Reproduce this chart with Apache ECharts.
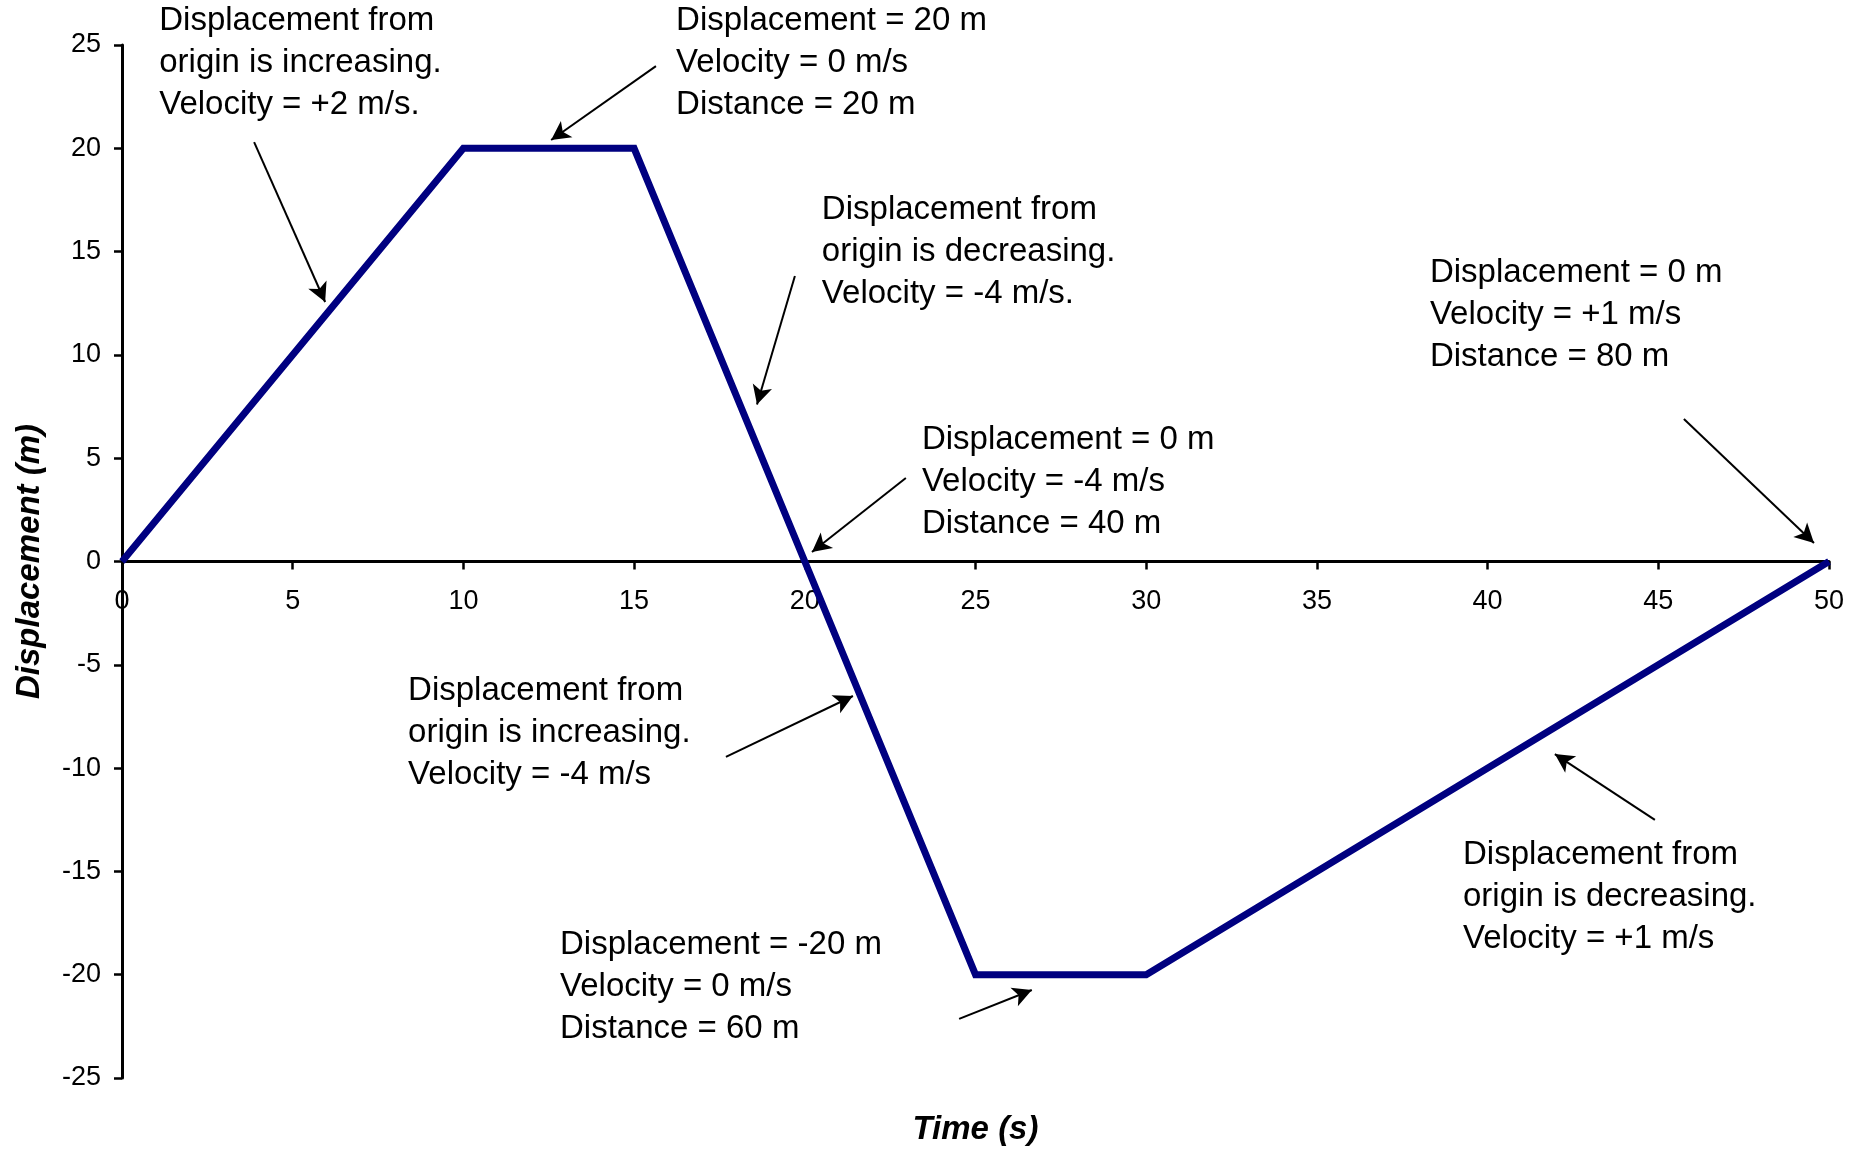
<!DOCTYPE html>
<html>
<head>
<meta charset="utf-8">
<script src="https://cdn.jsdelivr.net/npm/echarts@6/dist/echarts.min.js"></script>
<style>
  html, body { margin: 0; padding: 0; background: #fff; }
  #chart { width: 1866px; height: 1149px; }
</style>
</head>
<body>
<div id="chart"></div>
<script>
// ---- data ----
const timeS = [0, 10, 15, 20, 25, 30, 50];
const displacementM = [0, 20, 20, 0, -20, -20, 0];

const xTicks = { min: 0, max: 50, interval: 5 };
const yTicks = { min: -25, max: 25, interval: 5 };

// annotation texts, anchored (left edge, first line centre) in data units
const noteTexts = [
  'Displacement from\norigin is increasing.\nVelocity = +2 m/s.',
  'Displacement = 20 m\nVelocity = 0 m/s\nDistance = 20 m',
  'Displacement from\norigin is decreasing.\nVelocity = -4 m/s.',
  'Displacement = 0 m\nVelocity = -4 m/s\nDistance = 40 m',
  'Displacement from\norigin is decreasing.\nVelocity = +1 m/s',
  'Displacement = 0 m\nVelocity = +1 m/s\nDistance = 80 m',
  'Displacement from\norigin is increasing.\nVelocity = -4 m/s',
  'Displacement = -20 m\nVelocity = 0 m/s\nDistance = 60 m'
];
const noteX = [1.09, 16.23, 20.50, 23.43, 39.28, 38.31, 8.38, 12.83];
const noteY = [26.16, 26.15, 17.04, 5.88, -14.18, 13.98, -6.27, -18.56];

// arrows: start -> tip, in data units
const arrowFromX = [3.87, 15.64, 19.71, 22.96, 44.90, 45.75, 17.69, 24.52];
const arrowFromY = [20.30, 23.98, 13.82, 4.04, -12.51, 6.90, -9.46, -22.14];
const arrowToX   = [5.95, 12.57, 18.60, 20.21, 41.97, 49.56, 21.41, 26.65];
const arrowToY   = [12.56, 20.40, 7.60, 0.46, -9.32, 0.90, -6.51, -20.74];

// ---- chart ----
const FONT = "'Liberation Sans', Arial, Helvetica, sans-serif";
const W = 1866, H = 1149;
const GRID = { left: 122, right: 37, top: 45, bottom: 71 };
const chart = echarts.init(document.getElementById('chart'), null, { renderer: 'canvas', width: W, height: H });

// x axis sits at displacement = 0: shift it up from the grid bottom
const gridH = H - GRID.top - GRID.bottom;
const xAxisOffset = -gridH * (0 - yTicks.min) / (yTicks.max - yTicks.min);

const arrowData = arrowFromX.map((_, i) => [
  { coord: [arrowFromX[i], arrowFromY[i]] },
  { coord: [arrowToX[i], arrowToY[i]] }
]);

const option = {
  backgroundColor: '#ffffff',
  animation: false,
  grid: Object.assign({ containLabel: false, outerBoundsMode: 'none' }, GRID),
  xAxis: {
    type: 'value',
    position: 'bottom',
    offset: xAxisOffset,
    min: xTicks.min, max: xTicks.max, interval: xTicks.interval,
    name: 'Time (s)',
    nameLocation: 'middle',
    nameGap: 552,
    nameMoveOverlap: false,
    nameTextStyle: { fontFamily: FONT, fontSize: 33, fontWeight: 'bold', fontStyle: 'italic', color: '#000' },
    axisLine: { onZero: false, lineStyle: { color: '#000', width: 3 } },
    axisTick: { show: true, length: 8, lineStyle: { color: '#000', width: 2.5 } },
    axisLabel: { fontFamily: FONT, fontSize: 27, color: '#000', margin: 27 },
    splitLine: { show: false }
  },
  yAxis: {
    type: 'value',
    min: yTicks.min, max: yTicks.max, interval: yTicks.interval,
    name: 'Displacement (m)',
    nameLocation: 'middle',
    nameGap: 76,
    nameRotate: 90,
    nameMoveOverlap: false,
    nameTextStyle: { fontFamily: FONT, fontSize: 33, fontWeight: 'bold', fontStyle: 'italic', color: '#000' },
    axisLine: { show: true, onZero: false, lineStyle: { color: '#000', width: 3 } },
    axisTick: { show: true, length: 8, lineStyle: { color: '#000', width: 2.5 } },
    axisLabel: { fontFamily: FONT, fontSize: 27, color: '#000', margin: 21 },
    splitLine: { show: false }
  },
  series: [
    {
      type: 'line',
      data: timeS.map((t, i) => [t, displacementM[i]]),
      showSymbol: false,
      symbol: 'none',
      lineStyle: { color: '#000080', width: 7, join: 'miter' },
      z: 5
    },
    {
      type: 'line',
      data: [],
      z: 6,
      markLine: {
        silent: true,
        animation: false,
        symbol: ['none', 'arrow'],
        symbolSize: [15, 19],
        label: { show: false },
        lineStyle: { color: '#000', width: 2, type: 'solid' },
        emphasis: { disabled: true },
        data: arrowData
      }
    }
  ]
};
chart.setOption(option);

function placeNotes() {
  const LH = 42;
  const elements = noteTexts.map((txt, i) => {
    const p = chart.convertToPixel({ gridIndex: 0 }, [noteX[i], noteY[i]]);
    return {
      type: 'text',
      x: p[0],
      y: p[1] - LH / 2,
      silent: true,
      z: 10,
      style: {
        text: txt,
        fontFamily: FONT,
        fontSize: 33,
        lineHeight: LH,
        fill: '#000',
        align: 'left',
        verticalAlign: 'top'
      }
    };
  });
  chart.setOption({ graphic: elements });
}
placeNotes();
</script>
</body>
</html>
